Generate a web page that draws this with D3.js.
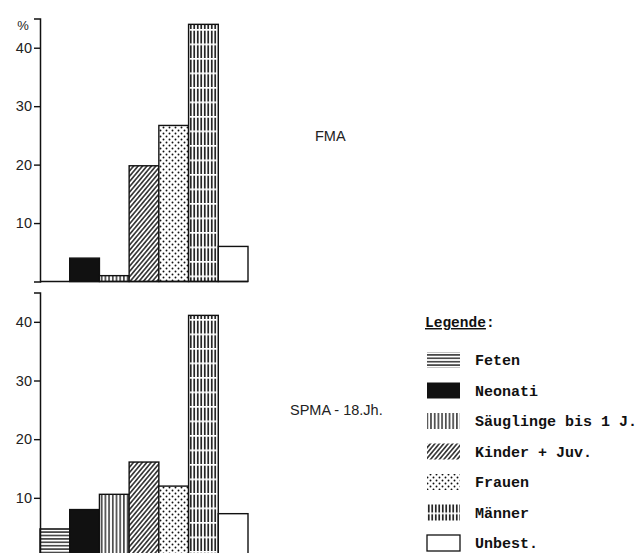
<!DOCTYPE html>
<html>
<head>
<meta charset="utf-8">
<script src="https://cdn.jsdelivr.net/npm/d3@7"></script>
<style>
  body { margin: 0; background: #fff; }
  svg { display: block; }
</style>
</head>
<body>
<div id="chart"></div>
<script>
// values (percent)
var categories = ["Feten", "Neonati", "Säuglinge bis 1 J.", "Kinder + Juv.", "Frauen", "Männer", "Unbest."];
var patterns = ["hlines", "solid", "vlines", "diag", "dots", "grid", "empty"];
var fmaValues = [0, 4.0, 1.0, 19.8, 26.7, 44.0, 6.0];
var spmaValues = [4.7, 8.0, 10.6, 16.1, 12.0, 41.1, 7.3];
var tickValues = [10, 20, 30, 40];
var panelLabels = ["FMA", "SPMA - 18.Jh."];

var width = 638, height = 553;

var svg = d3.select("#chart").append("svg")
    .attr("width", width)
    .attr("height", height);

// hatch patterns
var defs = svg.append("defs");

var p = defs.append("pattern").attr("id", "hlines")
    .attr("patternUnits", "userSpaceOnUse").attr("width", 6).attr("height", 3.4);
p.append("rect").attr("width", 6).attr("height", 3.4).attr("fill", "#fff");
p.append("line").attr("x1", 0).attr("x2", 6).attr("y1", 1.7).attr("y2", 1.7)
    .attr("stroke", "#111").attr("stroke-width", 1.3);

p = defs.append("pattern").attr("id", "solid")
    .attr("patternUnits", "userSpaceOnUse").attr("width", 4).attr("height", 4);
p.append("rect").attr("width", 4).attr("height", 4).attr("fill", "#111");

p = defs.append("pattern").attr("id", "vlines")
    .attr("patternUnits", "userSpaceOnUse").attr("width", 3.7).attr("height", 6);
p.append("rect").attr("width", 3.7).attr("height", 6).attr("fill", "#fff");
p.append("line").attr("x1", 1.8).attr("x2", 1.8).attr("y1", 0).attr("y2", 6)
    .attr("stroke", "#111").attr("stroke-width", 1.3);

p = defs.append("pattern").attr("id", "diag")
    .attr("patternUnits", "userSpaceOnUse").attr("width", 3.4).attr("height", 6)
    .attr("patternTransform", "rotate(40)");
p.append("rect").attr("width", 3.4).attr("height", 6).attr("fill", "#fff");
p.append("line").attr("x1", 1.7).attr("x2", 1.7).attr("y1", 0).attr("y2", 6)
    .attr("stroke", "#111").attr("stroke-width", 1.4);

p = defs.append("pattern").attr("id", "dots")
    .attr("patternUnits", "userSpaceOnUse").attr("width", 6).attr("height", 6);
p.append("rect").attr("width", 6).attr("height", 6).attr("fill", "#fff");
p.append("circle").attr("cx", 1.5).attr("cy", 1.5).attr("r", 0.95).attr("fill", "#111");
p.append("circle").attr("cx", 4.5).attr("cy", 4.5).attr("r", 0.95).attr("fill", "#111");

p = defs.append("pattern").attr("id", "grid")
    .attr("patternUnits", "userSpaceOnUse").attr("width", 3.5).attr("height", 14.5);
p.append("rect").attr("width", 3.5).attr("height", 14.5).attr("fill", "#fff");
p.append("line").attr("x1", 1.75).attr("x2", 1.75).attr("y1", 1.6).attr("y2", 14.5)
    .attr("stroke", "#111").attr("stroke-width", 1.6);

p = defs.append("pattern").attr("id", "empty")
    .attr("patternUnits", "userSpaceOnUse").attr("width", 4).attr("height", 4);
p.append("rect").attr("width", 4).attr("height", 4).attr("fill", "#fff");

var x = d3.scaleBand()
    .domain(categories)
    .range([40, 248])
    .padding(0);

function drawPanel(values, y, label, labelX, labelY, showBase) {
    var g = svg.append("g");

    g.selectAll("rect.bar")
        .data(categories.map(function(c, i) { return {cat: c, v: values[i], pat: patterns[i]}; })
            .filter(function(d) { return d.v > 0; }))
        .enter().append("rect")
        .attr("class", "bar")
        .attr("x", function(d) { return x(d.cat); })
        .attr("width", x.bandwidth())
        .attr("y", function(d) { return y(d.v); })
        .attr("height", function(d) { return y(0) - y(d.v); })
        .attr("fill", function(d) { return "url(#" + d.pat + ")"; })
        .attr("stroke", "#111")
        .attr("stroke-width", 1.4);

    if (showBase) {
        g.append("line")
            .attr("x1", x.range()[0]).attr("x2", x.range()[1])
            .attr("y1", y(0)).attr("y2", y(0))
            .attr("stroke", "#111").attr("stroke-width", 1.6);
    }

    var axis = g.append("g")
        .attr("transform", "translate(40,0)")
        .call(d3.axisLeft(y).tickValues(tickValues).tickSizeOuter(0).tickSize(6).tickPadding(2));
    axis.select(".domain").attr("stroke", "#111").attr("stroke-width", 1.5);
    axis.selectAll(".tick line").attr("stroke", "#111").attr("stroke-width", 1.4);
    axis.selectAll(".tick text")
        .attr("fill", "#222")
        .style("font-family", "'Liberation Sans', Arial, sans-serif")
        .style("font-size", "14.5px");

    g.append("text")
        .attr("x", labelX).attr("y", labelY)
        .attr("fill", "#222")
        .style("font-family", "'Liberation Sans', Arial, sans-serif")
        .style("font-size", "14.5px")
        .text(label);
}

var yTop = d3.scaleLinear().domain([0, 45]).range([281.5, 18.5]);
var yBot = d3.scaleLinear().domain([0, 45]).range([556.5, 292.5]);

drawPanel(fmaValues, yTop, panelLabels[0], 315, 141, true);
drawPanel(spmaValues, yBot, panelLabels[1], 290, 415, true);

svg.append("text")
    .attr("x", 23).attr("y", 30)
    .attr("text-anchor", "middle")
    .attr("fill", "#222")
    .style("font-family", "'Liberation Sans', Arial, sans-serif")
    .style("font-size", "13px")
    .text("%");

// legend
var mono = "'Liberation Mono', 'Courier New', monospace";
var legend = svg.append("g");

var title = legend.append("text")
    .attr("x", 425).attr("y", 327)
    .attr("fill", "#111")
    .style("font-family", mono)
    .style("font-size", "14.5px")
    .style("font-weight", "bold");
title.append("tspan").style("text-decoration", "underline").text("Legende");
title.append("tspan").text(":");

var rowY = d3.scaleLinear().domain([0, categories.length - 1]).range([360, 543]);

var rows = legend.selectAll("g.row")
    .data(categories)
    .enter().append("g")
    .attr("class", "row")
    .attr("transform", function(d, i) { return "translate(0," + rowY(i) + ")"; });

rows.append("rect")
    .attr("x", 427)
    .attr("y", -8)
    .attr("width", 33)
    .attr("height", 16)
    .attr("fill", function(d, i) { return "url(#" + patterns[i] + ")"; })
    .attr("stroke", function(d, i) { return patterns[i] === "empty" ? "#111" : "none"; })
    .attr("stroke-width", 1.3);

rows.append("text")
    .attr("x", 475)
    .attr("y", 5)
    .attr("fill", "#111")
    .style("font-family", mono)
    .style("font-size", "15px")
    .style("font-weight", "bold")
    .text(function(d) { return d; });
</script>
</body>
</html>
